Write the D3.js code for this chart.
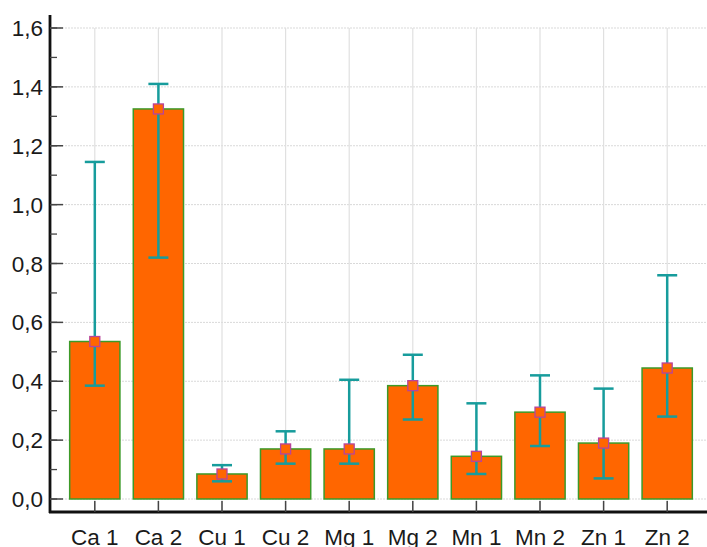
<!DOCTYPE html>
<html>
<head>
<meta charset="utf-8">
<script src="https://cdn.jsdelivr.net/npm/d3@7"></script>
<style>
  body { margin: 0; background: #fff; }
  text { font-family: "Liberation Sans", Arial, sans-serif; }
</style>
</head>
<body>
<div id="chart"></div>
<script>
// Data
const categories = ["Ca 1", "Ca 2", "Cu 1", "Cu 2", "Mg 1", "Mg 2", "Mn 1", "Mn 2", "Zn 1", "Zn 2"];
const means = [0.535, 1.325, 0.085, 0.17, 0.17, 0.385, 0.145, 0.295, 0.19, 0.445];
const upper = [1.145, 1.41, 0.115, 0.23, 0.405, 0.49, 0.325, 0.42, 0.375, 0.76];
const lower = [0.385, 0.82, 0.06, 0.12, 0.12, 0.27, 0.085, 0.18, 0.07, 0.28];
const yTicks = [0, 0.2, 0.4, 0.6, 0.8, 1.0, 1.2, 1.4, 1.6];

const width = 707;
const height = 547;

const svg = d3.select("#chart")
    .append("svg")
    .attr("width", width)
    .attr("height", height);

// Scales
const x = d3.scaleBand()
    .domain(categories)
    .range([63, 699])
    .paddingInner(0)
    .paddingOuter(0);
const barW = x.bandwidth() * 0.79;

const y = d3.scaleLinear()
    .domain([0, 1.6])
    .range([499, 28]);

const fmt = d => d3.format(".1f")(d).replace(".", ",");

// Gridlines
svg.append("g")
    .selectAll("line")
    .data(yTicks)
    .join("line")
    .attr("x1", 50)
    .attr("x2", width)
    .attr("y1", d => y(d))
    .attr("y2", d => y(d))
    .attr("stroke", "#d9d9d9")
    .attr("stroke-width", 1)
    .attr("stroke-dasharray", "2,1");

svg.append("g")
    .selectAll("line")
    .data(categories)
    .join("line")
    .attr("x1", d => x(d) + x.bandwidth() / 2)
    .attr("x2", d => x(d) + x.bandwidth() / 2)
    .attr("y1", y(1.6))
    .attr("y2", 512)
    .attr("stroke", "#e0e0e0")
    .attr("stroke-width", 1.2);

// Bars
const rows = categories.map((c, i) => ({ name: c, mean: means[i], hi: upper[i], lo: lower[i] }));

svg.append("g")
    .selectAll("rect")
    .data(rows)
    .join("rect")
    .attr("x", d => x(d.name) + (x.bandwidth() - barW) / 2)
    .attr("y", d => y(d.mean))
    .attr("width", barW)
    .attr("height", d => y(0) - y(d.mean))
    .attr("fill", "#ff6600")
    .attr("stroke", "#3c9a28")
    .attr("stroke-width", 1.5);

// Error bars
const err = svg.append("g")
    .attr("stroke", "#179c9c")
    .attr("stroke-width", 2.5);
const cx = d => x(d.name) + x.bandwidth() / 2;

err.selectAll(".stem")
    .data(rows)
    .join("line")
    .attr("class", "stem")
    .attr("x1", cx).attr("x2", cx)
    .attr("y1", d => y(d.hi)).attr("y2", d => y(d.lo));

err.selectAll(".capHi")
    .data(rows)
    .join("line")
    .attr("class", "capHi")
    .attr("x1", d => cx(d) - 10).attr("x2", d => cx(d) + 10)
    .attr("y1", d => y(d.hi)).attr("y2", d => y(d.hi));

err.selectAll(".capLo")
    .data(rows)
    .join("line")
    .attr("class", "capLo")
    .attr("x1", d => cx(d) - 10).attr("x2", d => cx(d) + 10)
    .attr("y1", d => y(d.lo)).attr("y2", d => y(d.lo));

// Mean markers
svg.append("g")
    .selectAll("rect")
    .data(rows)
    .join("rect")
    .attr("x", d => cx(d) - 5)
    .attr("y", d => y(d.mean) - 5)
    .attr("width", 10)
    .attr("height", 10)
    .attr("fill", "#ff6600")
    .attr("stroke", "#b8449a")
    .attr("stroke-width", 1.3);

// Y axis
const yAxis = svg.append("g");
yAxis.append("line")
    .attr("x1", 50).attr("x2", 50)
    .attr("y1", 15).attr("y2", 513)
    .attr("stroke", "#111")
    .attr("stroke-width", 2.8);

const minorTicks = d3.range(0, 1.61, 0.1);
yAxis.selectAll(".minor")
    .data(minorTicks)
    .join("line")
    .attr("class", "minor")
    .attr("x1", 50).attr("x2", 57)
    .attr("y1", d => y(d)).attr("y2", d => y(d))
    .attr("stroke", "#444")
    .attr("stroke-width", 1.3);

yAxis.selectAll(".major")
    .data(yTicks)
    .join("line")
    .attr("class", "major")
    .attr("x1", 50).attr("x2", 63)
    .attr("y1", d => y(d)).attr("y2", d => y(d))
    .attr("stroke", "#444")
    .attr("stroke-width", 1.5);

yAxis.selectAll("text")
    .data(yTicks)
    .join("text")
    .attr("x", 43)
    .attr("y", d => y(d))
    .attr("dy", "0.36em")
    .attr("text-anchor", "end")
    .style("font-size", "22.5px")
    .attr("fill", "#1a1a1a")
    .text(fmt);

// X axis
const xAxis = svg.append("g");
xAxis.append("line")
    .attr("x1", 49).attr("x2", width)
    .attr("y1", 512).attr("y2", 512)
    .attr("stroke", "#111")
    .attr("stroke-width", 2.8);

xAxis.selectAll(".tick")
    .data(categories)
    .join("line")
    .attr("class", "tick")
    .attr("x1", d => x(d) + x.bandwidth() / 2)
    .attr("x2", d => x(d) + x.bandwidth() / 2)
    .attr("y1", 501).attr("y2", 512)
    .attr("stroke", "#444")
    .attr("stroke-width", 1.5);

xAxis.selectAll("text")
    .data(categories)
    .join("text")
    .attr("x", d => x(d) + x.bandwidth() / 2)
    .attr("y", 545)
    .attr("text-anchor", "middle")
    .style("font-size", "22.5px")
    .attr("fill", "#1a1a1a")
    .text(d => d);
</script>
</body>
</html>
